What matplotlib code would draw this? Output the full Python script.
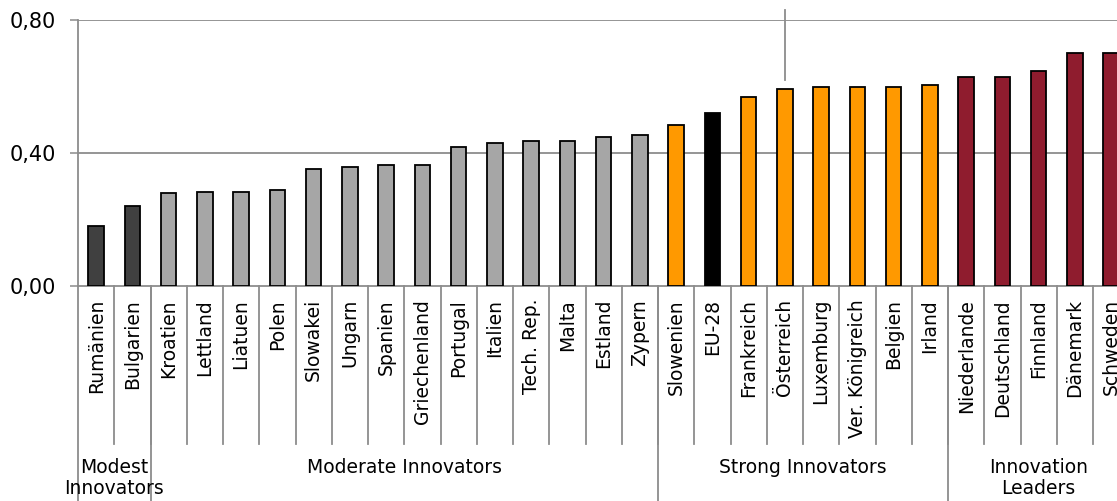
import numpy as np
import matplotlib.pyplot as plt

countries = ['Rumänien', 'Bulgarien', 'Kroatien', 'Lettland', 'Liatuen', 'Polen',
             'Slowakei', 'Ungarn', 'Spanien', 'Griechenland', 'Portugal', 'Italien',
             'Tech. Rep.', 'Malta', 'Estland', 'Zypern', 'Slowenien', 'EU-28',
             'Frankreich', 'Österreich', 'Luxemburg', 'Ver. Königreich', 'Belgien',
             'Irland', 'Niederlande', 'Deutschland', 'Finnland', 'Dänemark', 'Schweden']
values = [0.181, 0.241, 0.279, 0.284, 0.284, 0.290, 0.351, 0.357, 0.363, 0.364,
          0.418, 0.430, 0.436, 0.436, 0.448, 0.453, 0.483, 0.520, 0.567, 0.592,
          0.598, 0.598, 0.598, 0.604, 0.628, 0.628, 0.646, 0.701, 0.701]
group_of = ['modest'] * 2 + ['moderate'] * 14 + ['strong'] + ['eu'] + ['strong'] * 6 + ['leader'] * 5
group_names = ['Modest\nInnovators', 'Moderate Innovators', 'Strong Innovators', 'Innovation\nLeaders']
group_bounds = [(0, 2), (2, 16), (16, 24), (24, 29)]
colors = {'modest': '#404040', 'moderate': '#a6a6a6', 'eu': '#000000',
          'strong': '#ff9900', 'leader': '#8f1c2e'}
yticks = [0.0, 0.4, 0.8]
ytick_labels = ['0,00', '0,40', '0,80']

W, H = 1117, 501
fig = plt.figure(figsize=(W / 100, H / 100), dpi=100)
x0, x1, ytop, ybot = 78, 78 + 29 * 36.25, 20, 286
ax = fig.add_axes([x0 / W, 1 - ybot / H, (x1 - x0) / W, (ybot - ytop) / H])

x = np.arange(len(countries))
ax.bar(x, values, width=0.43, color=[colors[g] for g in group_of],
       edgecolor='black', linewidth=1.3, zorder=3)

gray = '#8c8c8c'
ax.set_xlim(-0.5, len(countries) - 0.5)
ax.set_ylim(0, 0.8)
ax.set_yticks(yticks)
ax.set_yticklabels(ytick_labels, fontsize=15)
ax.tick_params(axis='y', length=6, width=1.1, color=gray, pad=10)
ax.set_xticks([])
for s in ['top', 'right']:
    ax.spines[s].set_visible(False)
for s in ['left', 'bottom']:
    ax.spines[s].set_color(gray)
    ax.spines[s].set_linewidth(1.3)
for yv in yticks[1:]:
    ax.axhline(yv, color=gray, linewidth=1.3, zorder=1)

# marker line above Österreich
ax.plot([19, 19], [0.62, 0.83], color=gray, linewidth=1.3, clip_on=False, zorder=2)

trans = ax.get_xaxis_transform()
hpx = ybot - ytop
for k in range(1, len(countries)):
    ax.plot([k - 0.5, k - 0.5], [0, -(444 - ybot) / hpx], color=gray, linewidth=1.3,
            transform=trans, clip_on=False)
for a, b in group_bounds:
    ax.plot([a - 0.5, a - 0.5], [0, -(520 - ybot) / hpx], color=gray, linewidth=1.3,
            transform=trans, clip_on=False)
for i, name in enumerate(countries):
    ax.text(i, -(299 - ybot) / hpx, name, rotation=90, ha='center', va='top',
            fontsize=13.5, transform=trans)
for (a, b), name in zip(group_bounds, group_names):
    ax.text((a + b - 1) / 2, -(458 - ybot) / hpx, name, ha='center', va='top',
            fontsize=13.5, transform=trans, linespacing=1.15)

fig.savefig('out.png', dpi=100)
